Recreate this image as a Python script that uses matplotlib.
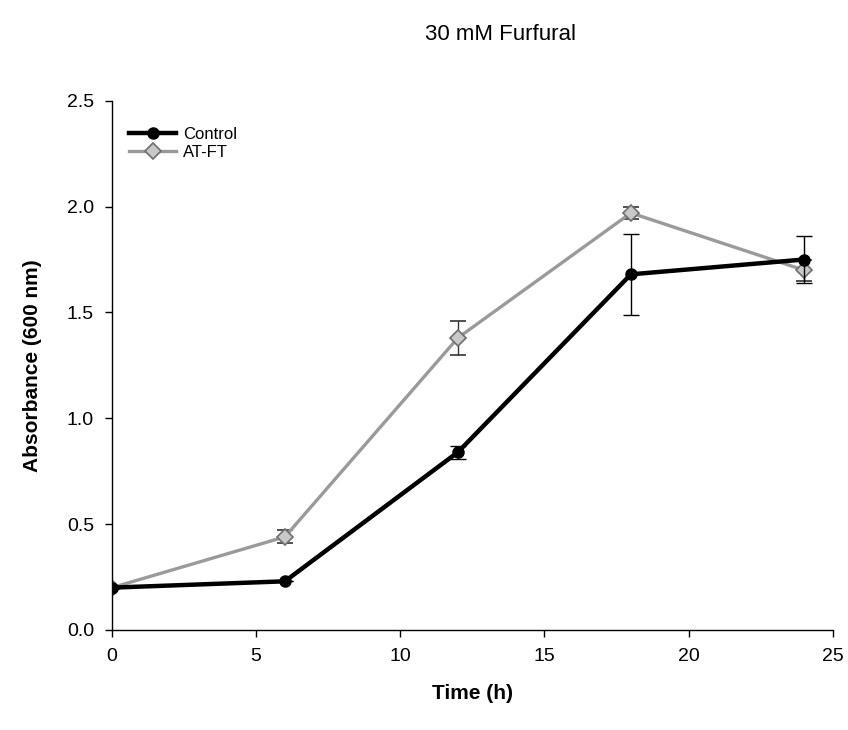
import matplotlib
matplotlib.use("Agg")
import matplotlib.pyplot as plt
from matplotlib.lines import Line2D

plt.rcParams['font.family'] = ['Liberation Sans', 'DejaVu Sans']

time_h = [0, 6, 12, 18, 24]
control = [0.20, 0.23, 0.84, 1.68, 1.75]
control_err = [0.0, 0.0, 0.03, 0.19, 0.11]
atft = [0.20, 0.44, 1.38, 1.97, 1.70]
atft_err = [0.0, 0.03, 0.08, 0.03, 0.05]

x_ticks = [0, 5, 10, 15, 20, 25]
y_ticks = [0.0, 0.5, 1.0, 1.5, 2.0, 2.5]

fig = plt.figure(figsize=(8.48, 7.3), dpi=100)
ax = fig.add_axes([0.132, 0.137, 0.850, 0.725])

atft_style = dict(color='#9a9a9a', lw=2.4, marker='D', ms=8,
                  mfc='#c8c8c8', mec='#6e6e6e', mew=1.2)
control_style = dict(color='black', lw=3.2, marker='o', ms=8,
                     mfc='black', mec='black')

ax.errorbar(time_h, atft, yerr=atft_err, ecolor='#333333', elinewidth=1.0,
            capsize=6, capthick=1.0, zorder=2, **atft_style)
ax.errorbar(time_h, control, yerr=control_err, ecolor='black', elinewidth=1.0,
            capsize=6, capthick=1.0, zorder=3, **control_style)

ax.set_xlim(0, 25)
ax.set_ylim(0, 2.5)
ax.set_xticks(x_ticks)
ax.set_yticks(y_ticks)
ax.set_xticklabels([str(v) for v in x_ticks])
ax.set_yticklabels([f"{v:.1f}" for v in y_ticks])
ax.tick_params(direction='out', length=5, width=1, labelsize=14, pad=8)

for side in ('top', 'right'):
    ax.spines[side].set_visible(False)
for side in ('left', 'bottom'):
    ax.spines[side].set_linewidth(1.0)

ax.set_xlabel('Time (h)', fontsize=15, fontweight='bold', labelpad=14)
ax.set_ylabel('Absorbance (600 nm)', fontsize=15, fontweight='bold', labelpad=18)
fig.text(0.59, 0.953, '30 mM Furfural', fontsize=16, ha='center', va='center')

handles = [Line2D([], [], **control_style), Line2D([], [], **atft_style)]
ax.legend(handles, ['Control', 'AT-FT'], loc='upper left', frameon=False,
          fontsize=12, handlelength=2.8, handletextpad=0.4, labelspacing=0.15,
          borderaxespad=0.3, bbox_to_anchor=(0.008, 0.972))

fig.savefig('out.png', dpi=100)
